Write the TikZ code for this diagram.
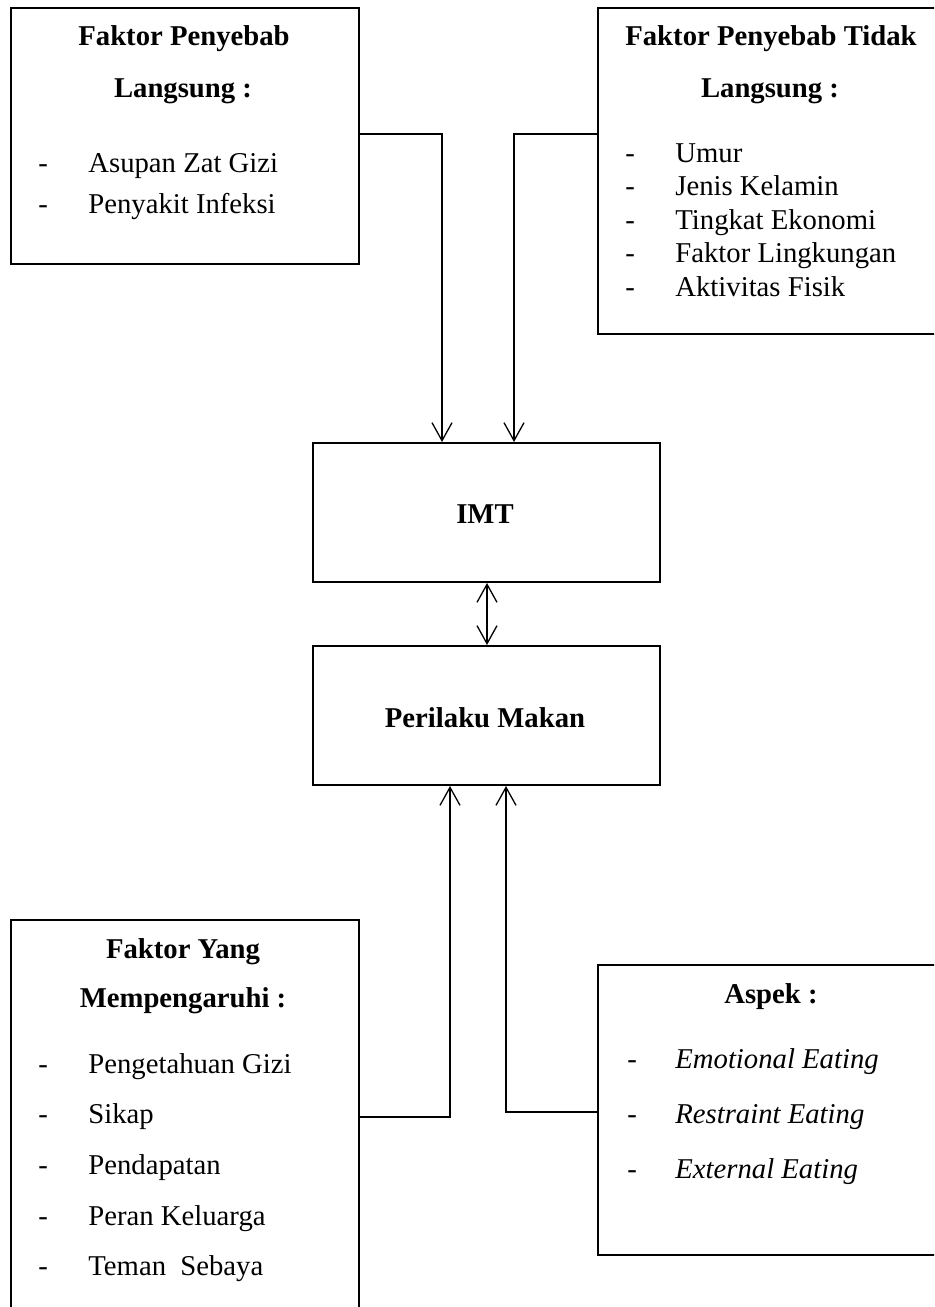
\documentclass[tikz,border=0pt]{standalone}
\usepackage{fontspec}
\setmainfont{Liberation Serif}
\usetikzlibrary{arrows.meta, positioning}

\tikzset{
  scatola/.style = {draw, line width=1pt, anchor=north west, inner sep=0pt, minimum width=174pt},
  testo/.style = {inner sep=0pt, font=\fontsize{14.35}{17}\selectfont},
  titolo/.style = {testo, anchor=base, font=\fontsize{14.35}{17}\selectfont\bfseries},
  voce/.style = {testo, anchor=base west},
  freccia/.style = {line width=0.65pt, -{Straight Barb[length=9pt, width=10pt]}},
}

\begin{document}
\begin{tikzpicture}[x=0.5pt, y=-0.5pt]
    % Area
    \clip (0,0) rectangle (934,1307);
    % Scatole
    \node[scatola, minimum height=128pt] (diretti) at (10,7) {};
    \node[scatola, minimum width=176pt, minimum height=163pt] (indiretti) at (597,7) {};
    \node[scatola, minimum width=173.5pt, minimum height=69.5pt] (imt) at (312,442) {};
    \node[scatola, minimum width=173.5pt, minimum height=69.5pt] (perilaku) at (312,645) {};
    \node[scatola, minimum height=215pt] (pengaruh) at (10,919) {};
    \node[scatola, minimum width=176pt, minimum height=145pt] (aspek) at (597,964) {};

    % Titoli
    \node[titolo] (t1a) at (184,45) {Faktor Penyebab};
    \node[titolo] (t1b) at (183,97) {Langsung :};
    \node[titolo] (t2a) at (771,45) {Faktor Penyebab Tidak};
    \node[titolo] (t2b) at (770,97) {Langsung :};
    \node[titolo] (timt) at (485,523) {IMT};
    \node[titolo] (tper) at (485,727) {Perilaku Makan};
    \node[titolo] (t3a) at (183,958) {Faktor Yang};
    \node[titolo] (t3b) at (183,1007) {Mempengaruhi :};
    \node[titolo] (t4) at (771,1003) {Aspek :};

    % Elenchi
    \foreach \v [count=\i] in {Asupan Zat Gizi, Penyakit Infeksi} {
        \node[voce] (d1\i) at (38,{172+41*(\i-1)}) {-};
        \node[voce] (v1\i) at (88,{172+41*(\i-1)}) {\v};
    }
    \foreach \v [count=\i] in {Umur, Jenis Kelamin, Tingkat Ekonomi, Faktor Lingkungan, Aktivitas Fisik} {
        \node[voce] (d2\i) at (625,{162+33.5*(\i-1)}) {-};
        \node[voce] (v2\i) at (675,{162+33.5*(\i-1)}) {\v};
    }
    \foreach \v [count=\i] in {Pengetahuan Gizi, Sikap, Pendapatan, Peran Keluarga, Teman\ \ Sebaya} {
        \node[voce] (d3\i) at (38,{1073+50.7*(\i-1)}) {-};
        \node[voce] (v3\i) at (88,{1073+50.7*(\i-1)}) {\v};
    }
    \foreach \v [count=\i] in {Emotional Eating, Restraint Eating, External Eating} {
        \node[voce] (d4\i) at (627,{1068+55*(\i-1)}) {-};
        \node[voce] (v4\i) at (675,{1068+55*(\i-1)}) {\textit{\v}};
    }

    % Frecce
    \draw[freccia] ([yshift=-63.5pt]diretti.north east) -| ([xshift=65pt]imt.north west);
    \draw[freccia] ([yshift=-63.5pt]indiretti.north west) -| ([xshift=101pt]imt.north west);
    \draw[freccia, {Straight Barb[length=9pt, width=10pt]}-{Straight Barb[length=9pt, width=10pt]}]
        ([xshift=87.5pt]imt.south west) -- ([xshift=87.5pt]perilaku.north west);
    \draw[freccia] ([yshift=-99pt]pengaruh.north east) -| ([xshift=69pt]perilaku.south west);
    \draw[freccia] ([yshift=-74pt]aspek.north west) -| ([xshift=97pt]perilaku.south west);
\end{tikzpicture}
\end{document}
